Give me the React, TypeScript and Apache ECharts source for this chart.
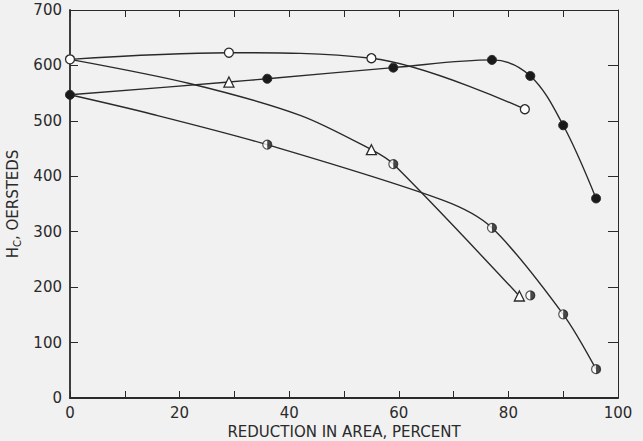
import React, { useEffect, useRef } from "react";
import * as echarts from "echarts";

// Open circles
const openX = [0, 29, 55, 83];
const openY = [611, 623, 613, 521];
// Filled circles (with a triangle point at 29)
const filledX = [0, 29, 36, 59, 77, 84, 90, 96];
const filledY = [547, 570, 576, 596, 610, 581, 492, 360];
const filledSymbols = ["circle", "triangle", "circle", "circle", "circle", "circle", "circle", "circle"];
// Descending triangle curve (starts at the open circle at 0); "none" = curve point without a mark
const triX = [0, 22, 42, 55, 59, 82];
const triY = [611, 567, 510, 448, 422, 184];
const triSymbols = ["none", "none", "none", "triangle", "none", "triangle"];
// Half-filled circle curve (starts at filled circle at 0)
const halfX = [0, 15, 36, 68, 77, 90, 96];
const halfY = [547, 512, 457, 357, 307, 151, 52];
const halfSymbols = ["none", "none", "half", "none", "half", "half", "half"];
// Extra half-filled points off their curve
const halfExtraX = [59, 84];
const halfExtraY = [422, 185];

const xTicks = [0, 20, 40, 60, 80, 100];
const yTicks = [0, 100, 200, 300, 400, 500, 600, 700];

const INK = "#2a2a2a";
const FONT = "DejaVu Sans";
const HALF_PATH = "path://M0,0 A10,10 0 0,1 0,20 Z";

export default function App() {
  const ref = useRef<HTMLDivElement>(null);
  useEffect(() => {
    if (!ref.current) return;
    const chart = echarts.init(ref.current, undefined, { renderer: "svg" });
    const pts = (xs: number[], ys: number[]) => xs.map((x, i) => [x, ys[i]]);

    const halfAll = [
      ...pts(halfX, halfY).filter((_, i) => halfSymbols[i] === "half"),
      ...pts(halfExtraX, halfExtraY),
    ];

    const tick = (len: number) => ({ show: true, inside: true, length: len, lineStyle: { color: INK, width: 1 } });
    const labelStyle = { color: INK, fontFamily: FONT, fontSize: 15 };

    chart.setOption({
      animation: false,
      backgroundColor: "#f1f1f1",
      grid: { left: 70, right: 25, top: 10, bottom: 43, outerBoundsMode: "none" },
      xAxis: [
        {
          type: "value",
          min: 0,
          max: 100,
          interval: 10,
          position: "bottom",
          axisLine: { show: true, onZero: false, lineStyle: { color: INK, width: 1.8 } },
          axisTick: tick(7),
          splitLine: { show: false },
          axisLabel: {
            ...labelStyle,
            margin: 7,
            formatter: (v: number) => (xTicks.includes(v) ? String(v) : ""),
          },
          name: "REDUCTION IN AREA, PERCENT",
          nameLocation: "middle",
          nameGap: 25,
          nameTextStyle: labelStyle,
        },
        {
          type: "value",
          min: 0,
          max: 100,
          interval: 10,
          position: "top",
          axisLine: { show: true, onZero: false, lineStyle: { color: INK, width: 1 } },
          axisTick: tick(7),
          axisLabel: { show: false },
          splitLine: { show: false },
        },
      ],
      yAxis: [
        {
          type: "value",
          min: 0,
          max: 700,
          interval: 100,
          position: "left",
          axisLine: { show: true, onZero: false, lineStyle: { color: INK, width: 1.8 } },
          axisTick: tick(8),
          splitLine: { show: false },
          axisLabel: {
            ...labelStyle,
            margin: 8,
            formatter: (v: number) => (yTicks.includes(v) ? String(v) : ""),
          },
          name: "{h|H}{s|C}{h|, OERSTEDS}",
          nameLocation: "middle",
          nameGap: 46,
          nameRotate: 90,
          nameTextStyle: {
            ...labelStyle,
            rich: {
              h: { fontSize: 15, lineHeight: 19, color: INK, fontFamily: FONT },
              s: { fontSize: 10, lineHeight: 10, padding: [9, 0, 0, 0], color: INK, fontFamily: FONT },
            },
          },
        },
        {
          type: "value",
          min: 0,
          max: 700,
          interval: 100,
          position: "right",
          axisLine: { show: true, onZero: false, lineStyle: { color: INK, width: 1 } },
          axisTick: tick(10),
          axisLabel: { show: false },
          splitLine: { show: false },
        },
      ],
      series: [
        {
          type: "line",
          smooth: 0.35,
          data: pts(openX, openY),
          symbol: "circle",
          symbolSize: 9,
          lineStyle: { color: INK, width: 1.4 },
          itemStyle: { color: "#ffffff", borderColor: INK, borderWidth: 1.3 },
          z: 3,
        },
        {
          type: "line",
          smooth: 0.35,
          data: pts(filledX, filledY).map((p, i) =>
            filledSymbols[i] === "triangle"
              ? {
                  value: p,
                  symbol: "triangle",
                  symbolSize: 10,
                  itemStyle: { color: "#ffffff", borderColor: INK, borderWidth: 1.3 },
                }
              : { value: p }
          ),
          symbol: "circle",
          symbolSize: 9,
          lineStyle: { color: INK, width: 1.4 },
          itemStyle: { color: "#1a1a1a", borderColor: INK, borderWidth: 1 },
          z: 3,
        },
        {
          type: "line",
          smooth: 0.3,
          data: pts(triX, triY).map((p, i) => ({ value: p, symbol: triSymbols[i] })),
          symbolSize: 10,
          lineStyle: { color: INK, width: 1.4 },
          itemStyle: { color: "#ffffff", borderColor: INK, borderWidth: 1.3 },
          z: 2,
        },
        {
          type: "line",
          smooth: 0.3,
          data: pts(halfX, halfY),
          symbol: "none",
          lineStyle: { color: INK, width: 1.4 },
          z: 2,
        },
        {
          type: "scatter",
          data: halfAll,
          symbol: "circle",
          symbolSize: 9,
          itemStyle: { color: "#ffffff", borderColor: INK, borderWidth: 1.2 },
          z: 4,
        },
        {
          type: "scatter",
          data: halfAll,
          symbol: HALF_PATH,
          symbolSize: [4.5, 9],
          symbolOffset: [2.25, 0],
          itemStyle: { color: "#1a1a1a" },
          z: 5,
        },
      ],
    });
    return () => chart.dispose();
  }, []);

  return (
    <div
      ref={ref}
      style={{ position: "fixed", left: 0, top: 0, width: 643, height: 441, background: "#f1f1f1" }}
    />
  );
}
